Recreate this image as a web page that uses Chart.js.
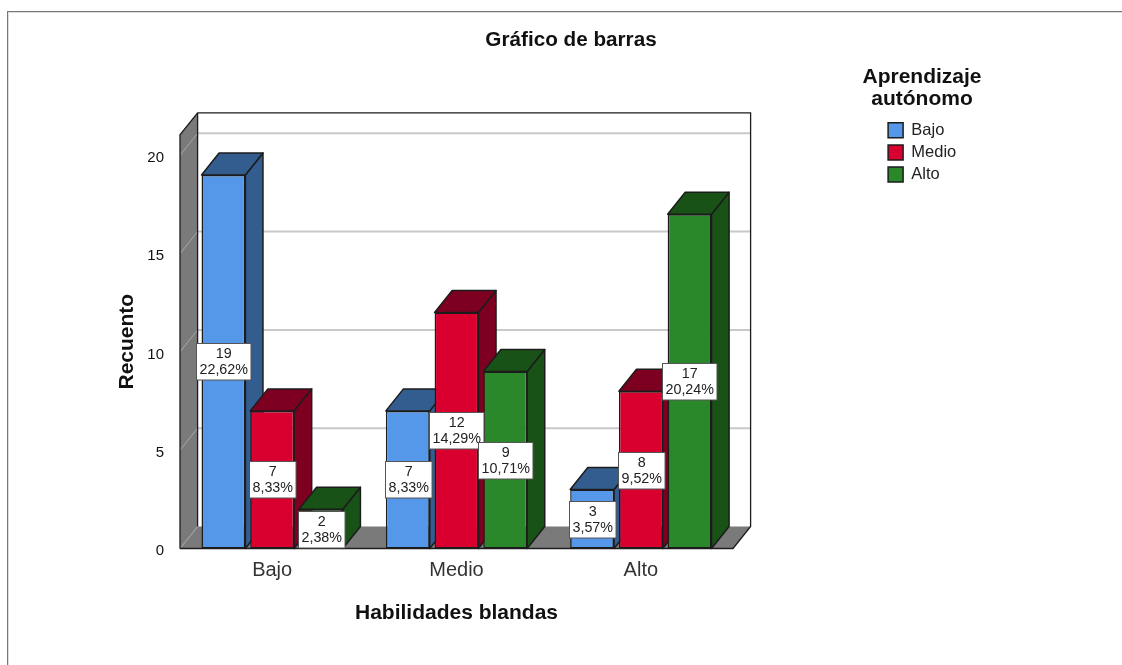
<!DOCTYPE html>
<html lang="es">
<head>
<meta charset="utf-8">
<title>Gráfico de barras</title>
<script src="https://cdn.jsdelivr.net/npm/chart.js@4"></script>
<style>
html,body{margin:0;padding:0;background:#fff;width:1122px;height:665px;overflow:hidden}
#frame{position:absolute;left:7px;top:11px;right:0;bottom:0;border-left:1px solid #777;border-top:1px solid #777;box-shadow:inset 1px 1px 0 #ddd}
#wrap{position:absolute;left:0;top:0;width:1122px;height:665px}
</style>
</head>
<body>
<div id="frame"></div>
<div id="wrap"><canvas id="c" width="1122" height="665"></canvas></div>
<script>
const categories = ['Bajo', 'Medio', 'Alto'];
const seriesNames = ['Bajo', 'Medio', 'Alto'];
const valuesBajo = [19, 7, 3];
const valuesMedio = [7, 12, 8];
const valuesAlto = [2, 9, 17];
const pctBajo = ['22,62%', '8,33%', '3,57%'];
const pctMedio = ['8,33%', '14,29%', '9,52%'];
const pctAlto = ['2,38%', '10,71%', '20,24%'];
const percents = [pctBajo, pctMedio, pctAlto];
const frontColors = ['#5597E8', '#D9002F', '#2A882A'];
const sideColors = ['#335C8F', '#7E0020', '#185216'];
const FONT = '"Liberation Sans", Arial, sans-serif';
const DX = 17.6, DY = -22;
const INK = '#1c1c1c';

function poly(ctx, pts, fill, stroke, lw) {
  ctx.beginPath();
  pts.forEach((p, i) => i ? ctx.lineTo(p[0], p[1]) : ctx.moveTo(p[0], p[1]));
  ctx.closePath();
  if (fill) { ctx.fillStyle = fill; ctx.fill(); }
  if (stroke) { ctx.strokeStyle = stroke; ctx.lineWidth = lw || 1.5; ctx.lineJoin = 'round'; ctx.stroke(); }
}

const box3d = {
  id: 'box3d',
  afterLayout(chart) {
    const t = chart.titleBlock;
    t.left = 20; t.right = 1122;
    const l = chart.legend;
    l.left = 882.5; l.right = 1000; l.top = 116.5; l.bottom = 190;
  },
  beforeDraw(chart) {
    chart.scales.y.getLabelItems().forEach(item => { item.options.translation[1] += 2.5; });
  },
  beforeDatasetsDraw(chart) {
    const ctx = chart.ctx, a = chart.chartArea, y = chart.scales.y;
    const L = a.left, R = a.right, T = a.top, B = a.bottom;
    ctx.save();
    poly(ctx, [[L + DX, T + DY], [R + DX, T + DY], [R + DX, B + DY], [L + DX, B + DY]], '#fff');
    poly(ctx, [[L, T], [L + DX, T + DY], [L + DX, B + DY], [L, B]], '#7A7A7A');
    poly(ctx, [[L, B], [L + DX, B + DY], [R + DX, B + DY], [R, B]], '#7A7A7A');
    y.ticks.forEach(tk => {
      const py = y.getPixelForValue(tk.value);
      ctx.beginPath();
      ctx.strokeStyle = '#A8A8A8'; ctx.lineWidth = 1;
      ctx.moveTo(L, py); ctx.lineTo(L + DX, py + DY); ctx.stroke();
      if (tk.value > 0) {
        ctx.beginPath();
        ctx.strokeStyle = '#C8C8C8'; ctx.lineWidth = 2;
        ctx.moveTo(L + DX, py + DY); ctx.lineTo(R + DX, py + DY); ctx.stroke();
      }
    });
    ctx.strokeStyle = INK; ctx.lineWidth = 1.3; ctx.lineJoin = 'miter';
    ctx.beginPath();
    ctx.moveTo(L, B); ctx.lineTo(L, T); ctx.lineTo(L + DX, T + DY); ctx.lineTo(R + DX, T + DY);
    ctx.lineTo(R + DX, B + DY); ctx.lineTo(R, B); ctx.lineTo(L, B);
    ctx.moveTo(L + DX, T + DY); ctx.lineTo(L + DX, B + DY);
    ctx.stroke();
    chart.data.datasets.forEach((ds, i) => {
      chart.getDatasetMeta(i).data.forEach(bar => {
        const p = bar.getProps(['x', 'y', 'base', 'width']);
        const l = p.x - p.width / 2, r = p.x + p.width / 2;
        poly(ctx, [[r, p.y], [r + DX, p.y + DY], [r + DX, p.base + DY], [r, p.base]], sideColors[i], INK);
        poly(ctx, [[l, p.y], [l + DX, p.y + DY], [r + DX, p.y + DY], [r, p.y]], sideColors[i], INK);
      });
    });
    ctx.restore();
  },
  afterDatasetsDraw(chart) {
    const ctx = chart.ctx;
    ctx.save();
    chart.data.datasets.forEach((ds, i) => {
      chart.getDatasetMeta(i).data.forEach((bar, j) => {
        const p = bar.getProps(['x', 'y', 'base']);
        const cy = (p.y + p.base) / 2;
        const l1 = String(ds.data[j]), l2 = percents[i][j];
        ctx.font = '14.3px ' + FONT;
        const w = Math.max(ctx.measureText(l1).width, ctx.measureText(l2).width) + 6;
        const h = 36.5;
        const bx = Math.round(p.x - w / 2) + 0.5, by = Math.round(cy - h / 2) + 0.5;
        ctx.fillStyle = '#fff'; ctx.fillRect(bx, by, w, h);
        ctx.strokeStyle = '#555'; ctx.lineWidth = 1; ctx.strokeRect(bx, by, w, h);
        ctx.fillStyle = '#222'; ctx.textAlign = 'center'; ctx.textBaseline = 'middle';
        ctx.fillText(l1, bx + w / 2, by + h / 2 - 8);
        ctx.fillText(l2, bx + w / 2, by + h / 2 + 8);
      });
    });
    ctx.fillStyle = '#111'; ctx.textAlign = 'center'; ctx.textBaseline = 'middle';
    ctx.font = 'bold 21px ' + FONT;
    ctx.fillText('Aprendizaje', 922, 77);
    ctx.fillText('autónomo', 922, 99);
    ctx.restore();
  }
};

const datasets = [valuesBajo, valuesMedio, valuesAlto].map((vals, i) => ({
  label: seriesNames[i],
  data: vals,
  backgroundColor: frontColors[i],
  borderColor: INK,
  borderWidth: 1.5,
  borderSkipped: false,
  categoryPercentage: 0.793,
  barPercentage: 0.9
}));

new Chart(document.getElementById('c'), {
  type: 'bar',
  data: { labels: categories, datasets },
  plugins: [box3d],
  options: {
    responsive: false,
    animation: false,
    layout: { padding: { left: 0, right: 389, top: 0, bottom: 0 } },
    plugins: {
      tooltip: { enabled: false },
      title: {
        display: true, text: 'Gráfico de barras', color: '#111',
        font: { family: FONT, size: 20.7, weight: 'bold' },
        padding: { top: 28.2, bottom: 81.8 }
      },
      legend: {
        display: true, position: 'chartArea', align: 'start',
        labels: { boxWidth: 15, boxHeight: 15, padding: 5.6, color: '#222', font: { family: FONT, size: 16.5 } }
      }
    },
    scales: {
      x: {
        grid: { display: false }, border: { display: false },
        ticks: { color: '#333', padding: 1.5, font: { family: FONT, size: 20 } },
        title: {
          display: true, text: 'Habilidades blandas', color: '#111',
          font: { family: FONT, size: 21, weight: 'bold' }, padding: { top: 0, bottom: 39.4 }
        },
        afterFit(s) { s.height = 116.5; }
      },
      y: {
        min: 0, max: 21.04,
        grid: { display: false }, border: { display: false },
        afterBuildTicks(s) { s.ticks = [0, 5, 10, 15, 20].map(v => ({ value: v })); },
        ticks: { color: '#111', padding: 8, font: { family: FONT, size: 15 } },
        title: {
          display: true, text: 'Recuento', color: '#111',
          font: { family: FONT, size: 21, weight: 'bold' }, padding: { top: 114.4, bottom: 0 }
        },
        afterFit(s) { s.width = 180; }
      }
    }
  }
});
</script>
</body>
</html>
